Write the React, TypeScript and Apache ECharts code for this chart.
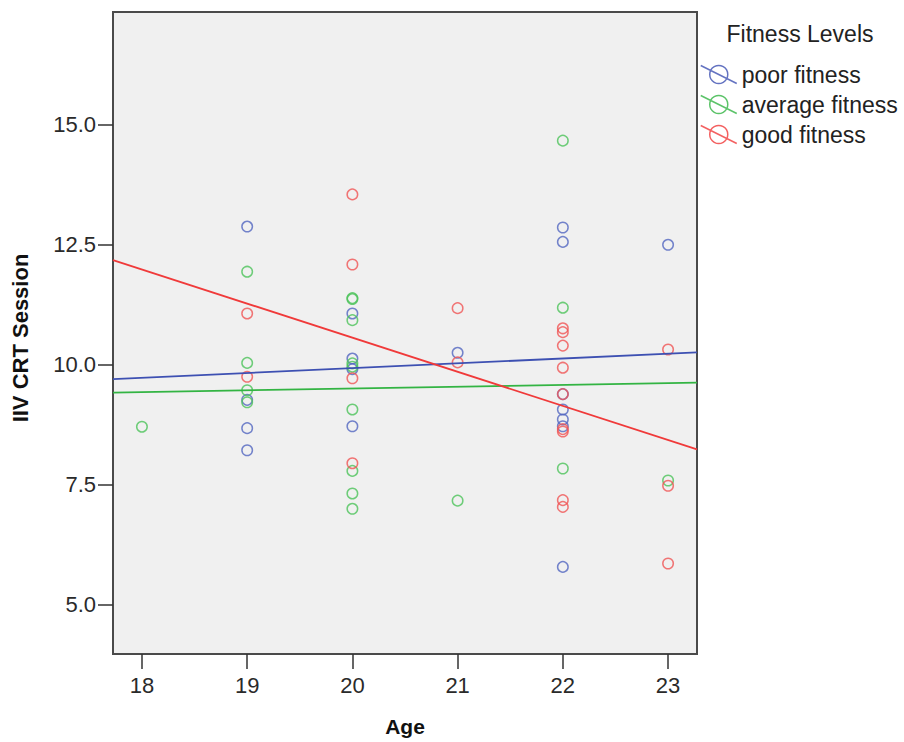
import React, { useEffect, useRef } from "react";
import * as echarts from "echarts";

const seriesNames = ["poor fitness", "average fitness", "good fitness"];
const pointColors = ["#5366C0", "#4CC35A", "#F05555"];
const lineColors = ["#3D50B2", "#33B443", "#F03A3A"];

const poorFitness: [number, number][] = [
  [19, 12.87], [19, 9.26], [19, 8.67], [19, 8.21],
  [20, 11.06], [20, 10.12], [20, 9.9], [20, 8.71],
  [21, 10.24],
  [22, 12.85], [22, 12.55], [22, 9.38], [22, 9.06], [22, 8.85], [22, 8.71], [22, 5.78],
  [23, 12.49],
];
const averageFitness: [number, number][] = [
  [18, 8.7],
  [19, 11.93], [19, 10.03], [19, 9.46], [19, 9.21],
  [20, 11.38], [20, 11.36], [20, 10.92], [20, 10.02], [20, 9.95], [20, 9.06], [20, 7.78], [20, 7.31], [20, 6.99],
  [21, 7.16],
  [22, 14.66], [22, 11.18], [22, 7.83],
  [23, 7.58],
];
const goodFitness: [number, number][] = [
  [19, 11.06], [19, 9.74],
  [20, 13.54], [20, 12.08], [20, 9.71], [20, 7.94],
  [21, 11.17], [21, 10.04],
  [22, 10.75], [22, 10.67], [22, 10.39], [22, 9.93], [22, 9.38], [22, 8.65], [22, 8.6], [22, 7.17], [22, 7.03],
  [23, 10.31], [23, 7.47], [23, 5.85],
];

const xMin = 17.725;
const xMax = 23.275;
const yMin = 3.965;
const yMax = 17.34;

// fitted line endpoints at the axis bounds
const poorFit: [number, number][] = [[xMin, 9.69], [xMax, 10.25]];
const averageFit: [number, number][] = [[xMin, 9.41], [xMax, 9.62]];
const goodFit: [number, number][] = [[xMin, 12.17], [xMax, 8.23]];

const xTicks = [18, 19, 20, 21, 22, 23];
const yTicks = [5, 7.5, 10, 12.5, 15];

const FONT = 'Arial, "Liberation Sans", sans-serif';
const legendIcon = "path://M27 10A9 9 0 1 1 27 9.99ZM0 1L36 19";

export default function App() {
  const ref = useRef<HTMLDivElement>(null);
  useEffect(() => {
    if (!ref.current) return;
    const chart = echarts.init(ref.current, undefined, { renderer: "svg" });
    const scatterData = [poorFitness, averageFitness, goodFitness];
    const fitData = [poorFit, averageFit, goodFit];
    const series: any[] = [];
    scatterData.forEach((d, i) => {
      series.push({
        type: "scatter",
        name: seriesNames[i],
        data: d,
        symbol: "circle",
        symbolSize: 10.5,
        itemStyle: { color: "transparent", borderColor: pointColors[i], borderWidth: 1.5 },
        z: 2,
      });
    });
    fitData.forEach((d, i) => {
      series.push({
        type: "line",
        name: seriesNames[i] + " fit",
        data: d,
        showSymbol: false,
        symbol: "none",
        lineStyle: { color: lineColors[i], width: 1.8 },
        z: 3,
      });
    });
    chart.setOption({
      animation: false,
      textStyle: { fontFamily: FONT },
      grid: {
        left: 113,
        top: 12,
        right: 207,
        bottom: 88,
        show: true,
        backgroundColor: "#f0f0f0",
        borderColor: "#4a4a4a",
        borderWidth: 2,
      },
      xAxis: {
        type: "value",
        min: xMin,
        max: xMax,
        axisLine: { show: false },
        splitLine: { show: false },
        axisTick: { show: true, length: 15, customValues: xTicks, lineStyle: { color: "#333", width: 1.5 } },
        axisLabel: {
          customValues: xTicks,
          margin: 20,
          fontSize: 22,
          color: "#2a2a2a",
          fontFamily: FONT,
        },
      },
      yAxis: {
        type: "value",
        min: yMin,
        max: yMax,
        axisLine: { show: false },
        splitLine: { show: false },
        axisTick: { show: true, length: 15, customValues: yTicks, lineStyle: { color: "#333", width: 1.5 } },
        axisLabel: {
          customValues: yTicks,
          margin: 17,
          fontSize: 22,
          color: "#2a2a2a",
          fontFamily: FONT,
          formatter: (v: number) => v.toFixed(1),
        },
      },
      legend: {
        orient: "vertical",
        left: 700,
        top: 63,
        padding: 0,
        itemWidth: 36,
        itemHeight: 20,
        itemGap: 7,
        selectedMode: false,
        textStyle: { fontSize: 23, color: "#222", fontFamily: FONT },
        data: seriesNames.map((n, i) => ({
          name: n,
          icon: legendIcon,
          itemStyle: { color: "transparent", borderColor: lineColors[i], borderWidth: 1.5 },
        })),
      },
      graphic: [
        {
          type: "text",
          x: 800,
          y: 34,
          style: { text: "Fitness Levels", font: `23px ${FONT}`, fill: "#222", align: "center", verticalAlign: "middle" },
        },
        {
          type: "text",
          x: 405,
          y: 726,
          style: { text: "Age", font: `bold 21px ${FONT}`, fill: "#111", align: "center", verticalAlign: "middle" },
        },
        {
          type: "text",
          x: 20,
          y: 338,
          rotation: Math.PI / 2,
          style: { text: "IIV CRT Session", font: `bold 22px ${FONT}`, fill: "#111", align: "center", verticalAlign: "middle" },
        },
      ],
      series,
    });
    return () => chart.dispose();
  }, []);
  return <div ref={ref} style={{ position: "fixed", left: 0, top: 0, width: 904, height: 742, background: "#fff" }} />;
}
